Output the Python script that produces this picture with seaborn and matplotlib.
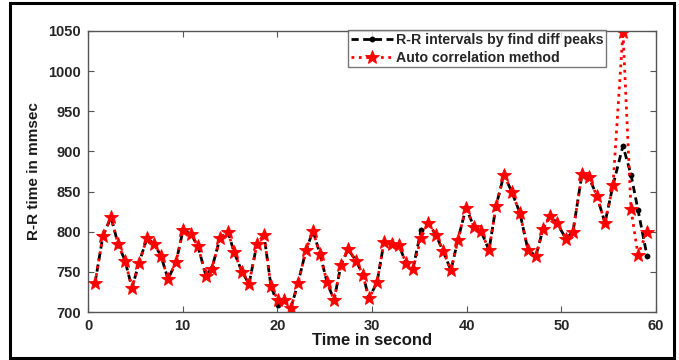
import matplotlib
matplotlib.use("Agg")
import matplotlib.pyplot as plt
import seaborn as sns
import pandas as pd
from matplotlib.patches import Rectangle

# ---- data ----
times = [0.74, 1.58, 2.43, 3.17, 3.91, 4.65, 5.39, 6.23, 6.97, 7.71,
         8.45, 9.30, 10.04, 10.88, 11.62, 12.46, 13.10, 13.94, 14.79, 15.42,
         16.27, 17.01, 17.85, 18.59, 19.33, 20.07, 20.70, 21.44, 22.18, 23.03,
         23.77, 24.51, 25.25, 25.99, 26.73, 27.47, 28.31, 29.05, 29.68, 30.53,
         31.27, 32.11, 32.85, 33.59, 34.33, 35.18, 35.91, 36.76, 37.50, 38.34,
         39.08, 39.93, 40.77, 41.51, 42.36, 43.10, 43.94, 44.79, 45.63, 46.48,
         47.32, 48.06, 48.80, 49.54, 50.49, 51.23, 52.18, 52.92, 53.77, 54.61,
         55.46, 56.51, 57.36, 58.10, 59.05]

rr_diff_peaks = [736, 795, 818, 785, 764, 730, 761, 792, 785, 770,
                 741, 762, 802, 797, 782, 745, 755, 792, 800, 775,
                 750, 735, 785, 796, 732, 709, 715, 705, 736, 777,
                 801, 772, 737, 715, 759, 778, 764, 746, 717, 737,
                 787, 785, 783, 761, 754, 802, 811, 796, 776, 752,
                 790, 830, 806, 801, 777, 832, 871, 849, 823, 777,
                 770, 803, 820, 811, 791, 800, 872, 868, 844, 811,
                 858, 907, 871, 827, 770]

rr_autocorr = [736, 795, 818, 785, 764, 730, 761, 792, 785, 770,
               741, 762, 802, 797, 782, 745, 754, 792, 800, 775,
               750, 735, 785, 796, 732, 715, 715, 705, 736, 777,
               801, 772, 737, 715, 759, 778, 764, 746, 717, 737,
               787, 785, 783, 761, 754, 792, 811, 796, 776, 752,
               790, 830, 806, 801, 777, 832, 871, 849, 823, 777,
               770, 803, 820, 811, 791, 800, 872, 868, 844, 811,
               858, 1049, 828, 771, 800]

label_black = "R-R intervals by find diff peaks"
label_red = "Auto correlation method"
x_ticks = [0, 10, 20, 30, 40, 50, 60]
y_ticks = [700, 750, 800, 850, 900, 950, 1000, 1050]

sns.set_style("ticks")
plt.rcParams["font.family"] = ["Liberation Sans", "DejaVu Sans"]

df = pd.DataFrame({"t": times, "black": rr_diff_peaks, "red": rr_autocorr})

fig = plt.figure(figsize=(6.79, 3.60), dpi=100)
ax = fig.add_axes([88/679, 1-312/360, (656-88)/679, (312-31)/360])

sns.lineplot(data=df, x="t", y="black", ax=ax, color="black",
             linestyle=(0, (2.6, 1.6)), linewidth=2.0, marker="o",
             markersize=4.2, markeredgewidth=0, label=label_black, sort=False)
sns.lineplot(data=df, x="t", y="red", ax=ax, color="red", linestyle=":",
             linewidth=2.0, marker="*", markersize=10, markeredgewidth=0.6,
             markeredgecolor="red", label=label_red, sort=False)

ax.set_xlim(0, 60)
ax.set_ylim(700, 1050)
ax.set_xticks(x_ticks)
ax.set_yticks(y_ticks)
ax.set_xlabel("Time in second", fontsize=12, fontweight="bold", labelpad=0,
              color="#1a1a1a")
ax.set_ylabel("R-R time in mmsec", fontsize=11, fontweight="bold", labelpad=5,
              color="#1a1a1a")

for s in ax.spines.values():
    s.set_visible(True)
    s.set_color("#555555")
    s.set_linewidth(1.0)
ax.tick_params(direction="in", top=True, right=True, length=4, width=0.8,
               color="#555555", labelsize=10.5, labelcolor="#262626", pad=5)
for lbl in ax.get_xticklabels() + ax.get_yticklabels():
    lbl.set_fontweight("bold")

leg = ax.legend(loc="upper right", bbox_to_anchor=(0.912, 1.003), frameon=True,
                fancybox=False, edgecolor="#555555", fontsize=10.2,
                borderpad=0.2, labelspacing=0.25, handlelength=3.0,
                handletextpad=0.15, borderaxespad=0.0)
leg.get_frame().set_linewidth(1.0)
for t in leg.get_texts():
    t.set_fontweight("bold")

fig.patches.append(Rectangle((10/679, 2/360), 664/679, 355/360, transform=fig.transFigure,
                             fill=False, edgecolor="black", linewidth=2.2))

fig.savefig("out.png", dpi=100)
